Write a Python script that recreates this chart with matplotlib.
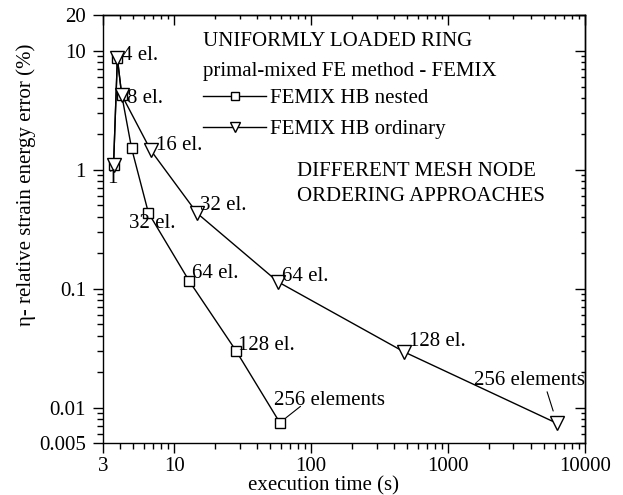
import matplotlib
matplotlib.use("Agg")
import matplotlib.pyplot as plt
from matplotlib.ticker import FixedLocator, LogLocator, NullFormatter, FixedFormatter
import numpy as np

plt.rcParams['font.family'] = ['Liberation Serif', 'DejaVu Serif']

# ---- data ----
time_nested = [3.6, 3.84, 4.13, 4.88, 6.47, 12.9, 28.3, 59.0]
err_nested = [1.09, 8.65, 4.25, 1.51, 0.434, 0.115, 0.0299, 0.00746]
labels_nested = ['', '', '', '', '32 el.', '64 el.', '128 el.', '256 elements']

time_ord = [3.6, 3.84, 4.13, 6.72, 14.7, 57.2, 476, 6255]
err_ord = [1.09, 8.65, 4.25, 1.46, 0.43, 0.114, 0.0294, 0.00735]
labels_ord = ['1', '4 el.', '8 el.', '16 el.', '32 el.', '64 el.', '128 el.', '256 elements']

xticks = [3, 10, 100, 1000, 10000]
xticklabels = ['3', '10', '100', '1000', '10000']
yticks = [0.005, 0.01, 0.1, 1, 10, 20]
yticklabels = ['0.005', '0.01', '0.1', '1', '10', '20']

series_names = ['FEMIX HB nested', 'FEMIX HB ordinary']

# ---- layout (offsets in px: dx, dy up) ----
off_nested = [None, None, None, None, (-19.7, -11), (2.7, 8), (2.3, 5.7), (-6.3, 22.3)]
off_ord = [(-1, -13), (5, 3), (5, -4), (5, 5), (3.3, 8), (4.4, 5.7), (4.7, 10), (-82.7, 43.3)]
P = 0.72  # px -> pt
FS = 15

fig = plt.figure(figsize=(6.23, 4.95), dpi=100)
ax = fig.add_axes([102.7/623, 1-443.3/495, (585-102.7)/623, (443.3-15)/495])

ax.set_xscale('log')
ax.set_yscale('log')
ax.set_xlim(3, 10000)
ax.set_ylim(0.005, 20)

ln_n, = ax.plot(time_nested, err_nested, color='black', lw=1.0, marker='s', ms=7,
                mfc='white', mec='black', mew=1.0, zorder=3)
ln_o, = ax.plot(time_ord, err_ord, color='black', lw=1.0, marker='v', ms=9.5,
                mfc='white', mec='black', mew=1.0, zorder=4)

def label_points(xs, ys, labels, offs):
    for x, y, lab, off in zip(xs, ys, labels, offs):
        if not lab or off is None:
            continue
        ha = 'center' if lab == '1' else 'left'
        ax.annotate(lab, xy=(x, y), xytext=(off[0]*P, off[1]*P), textcoords='offset points',
                    ha=ha, va='center', fontsize=FS, annotation_clip=False, zorder=5)

label_points(time_nested, err_nested, labels_nested, off_nested)
label_points(time_ord, err_ord, labels_ord, off_ord)

# leader lines for 256 elements labels
ax.annotate('', xy=(time_nested[-1], err_nested[-1]), xytext=(20.7*P, 16.3*P),
            textcoords='offset points',
            arrowprops=dict(arrowstyle='-', lw=0.8, color='black', shrinkA=0, shrinkB=7.7*P))
ax.annotate('', xy=(time_ord[-1], err_ord[-1]), xytext=(-10*P, 31.6*P),
            textcoords='offset points',
            arrowprops=dict(arrowstyle='-', lw=0.8, color='black', shrinkA=0, shrinkB=13*P))

# ticks
ax.xaxis.set_major_locator(FixedLocator(xticks))
ax.xaxis.set_major_formatter(FixedFormatter(xticklabels))
ax.xaxis.set_minor_locator(LogLocator(base=10, subs=np.arange(2, 10), numticks=20))
ax.xaxis.set_minor_formatter(NullFormatter())
ax.yaxis.set_major_locator(FixedLocator(yticks))
ax.yaxis.set_major_formatter(FixedFormatter(yticklabels))
ax.yaxis.set_minor_locator(LogLocator(base=10, subs=np.arange(2, 10), numticks=20))
ax.yaxis.set_minor_formatter(NullFormatter())

ax.tick_params(which='major', direction='out', length=7, width=1.0, labelsize=FS, pad=3)
ax.tick_params(which='minor', direction='out', length=4, width=1.0)
ax.tick_params(axis='y', which='major', pad=5)

for s in ax.spines.values():
    s.set_linewidth(1.0)

# top / right axes with inward ticks
secx = ax.secondary_xaxis('top')
secx.set_xscale('log')
secx.xaxis.set_major_locator(FixedLocator(xticks))
secx.xaxis.set_minor_locator(LogLocator(base=10, subs=np.arange(2, 10), numticks=20))
secx.xaxis.set_major_formatter(NullFormatter())
secx.xaxis.set_minor_formatter(NullFormatter())
secx.tick_params(which='major', direction='in', length=7, width=1.0)
secx.tick_params(which='minor', direction='in', length=3, width=1.0)
secx.spines['top'].set_linewidth(1.0)

secy = ax.secondary_yaxis('right')
secy.set_yscale('log')
secy.yaxis.set_major_locator(FixedLocator(yticks))
secy.yaxis.set_minor_locator(LogLocator(base=10, subs=np.arange(2, 10), numticks=20))
secy.yaxis.set_major_formatter(NullFormatter())
secy.yaxis.set_minor_formatter(NullFormatter())
secy.tick_params(which='major', direction='in', length=7, width=1.0)
secy.tick_params(which='minor', direction='in', length=3, width=1.0)
secy.spines['right'].set_linewidth(1.0)

ax.set_xlabel('execution time (s)', fontsize=FS)
ax.xaxis.set_label_coords(0.457, -0.078)
ax.set_ylabel('η- relative strain energy error (%)', fontsize=FS)
ax.yaxis.set_label_coords(-0.138, 0.603)

# text block / legend
ax.text(0.2086, 0.9377, 'UNIFORMLY LOADED RING', transform=ax.transAxes,
        ha='left', va='center', fontsize=FS)
ax.text(0.2086, 0.8676, 'primal-mixed FE method - FEMIX', transform=ax.transAxes,
        ha='left', va='center', fontsize=FS)
ax.text(0.4035, 0.634, 'DIFFERENT MESH NODE', transform=ax.transAxes,
        ha='left', va='center', fontsize=FS)
ax.text(0.4035, 0.5758, 'ORDERING APPROACHES', transform=ax.transAxes,
        ha='left', va='center', fontsize=FS)

leg = ax.legend([ln_n, ln_o], series_names, loc='upper left',
                bbox_to_anchor=(0.2086, 0.828), frameon=False, fontsize=FS,
                borderpad=0, borderaxespad=0, handlelength=3.0, handletextpad=0.2,
                labelspacing=0.53, markerscale=0.75)

fig.savefig('out.png', dpi=100)
